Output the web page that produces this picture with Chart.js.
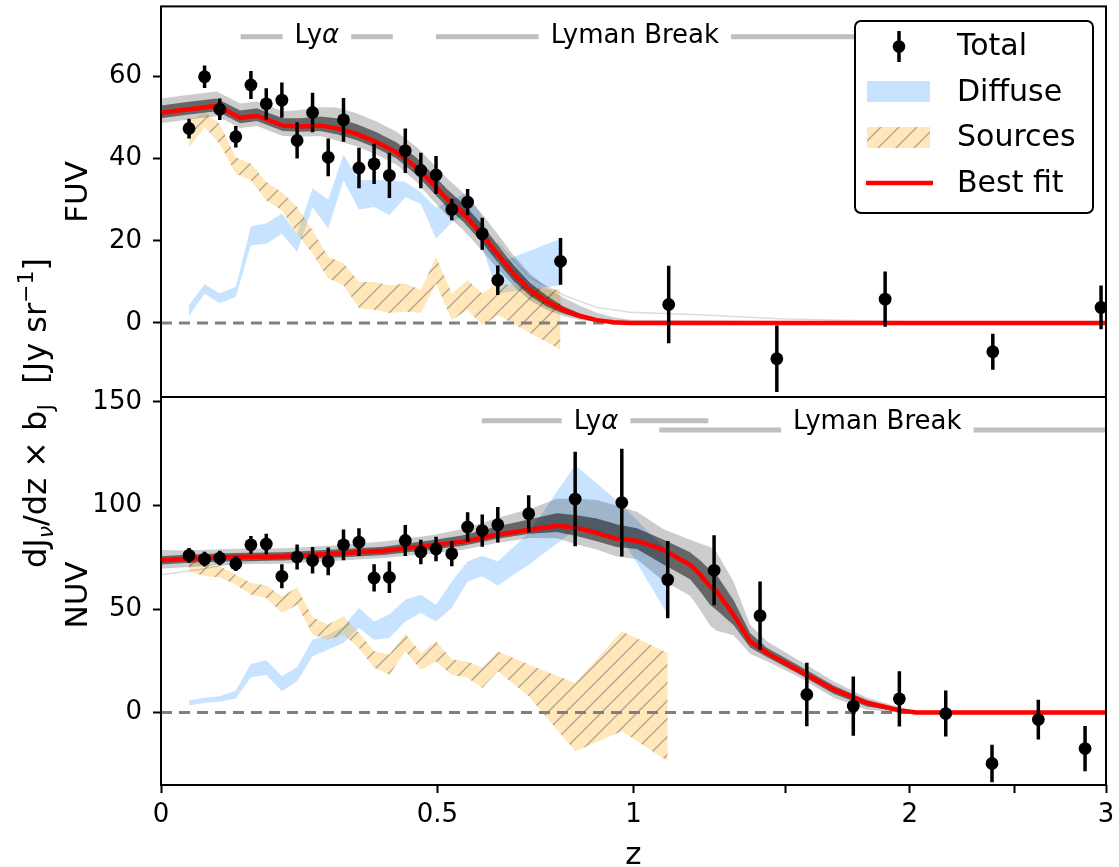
<!DOCTYPE html>
<html><head><meta charset="utf-8">
<script src="https://cdn.jsdelivr.net/npm/chart.js@4.4.1/dist/chart.umd.min.js"></script>
<style>
html,body{margin:0;padding:0;background:#fff;overflow:hidden}
#wrap{position:relative;width:1119px;height:867px}
#wrap canvas{position:absolute;left:0;top:0}
</style></head><body>
<div id="wrap"><canvas id="cFUV" width="1119" height="867"></canvas><canvas id="cNUV" width="1119" height="867"></canvas></div>
<script>
// ---------------- DATA ----------------
const xTickZ = [0, 0.5, 1, 1.5, 2, 2.5, 3];
const xTickLabels = ['0', '0.5', '1', '', '2', '', '3'];
const fuvTicks = [0, 20, 40, 60];
const nuvTicks = [0, 50, 100, 150];

// FUV measurements (Total)
const fuvZ = [0.042,0.066,0.090,0.116,0.141,0.167,0.194,0.221,0.249,0.278,0.307,0.337,0.367,0.398,0.431,0.464,0.497,0.532,0.568,0.602,0.639,0.797,1.106,1.468,1.893,2.388,2.971];
const fuvTotal = [47.3,59.9,52.0,45.3,57.9,53.3,54.2,44.4,51.2,40.3,49.4,37.7,38.7,35.9,41.9,37.1,36.0,27.6,29.4,21.7,10.4,15.0,4.5,-8.7,5.8,-7.0,3.8];
const fuvErr = [2.4,2.75,2.6,2.6,3.4,3.8,4.3,4.4,4.8,4.6,5.3,4.9,4.9,5.5,5.4,4.3,4.6,2.6,3.2,3.9,3.6,5.7,9.4,8.1,6.7,4.4,5.3];
// FUV components
const fuvBandZ = [0.042,0.066,0.090,0.116,0.141,0.167,0.194,0.221,0.249,0.278,0.307,0.337,0.367,0.398,0.431,0.464,0.497,0.532,0.568,0.602,0.639,0.797];
const fuvDiffHi = [4.4,9.4,7.2,8.8,23.5,24.2,26.6,21.7,32.8,30.0,41.0,34.7,34.8,34.7,34.3,31.8,28.0,30.0,31.8,25.8,14.5,20.5];
const fuvDiffLo = [1.7,7.2,4.8,6.4,18.9,19.3,21.7,17.3,28.2,23.0,34.7,27.6,28.2,26.2,30.6,29.0,20.5,24.5,26.7,18.5,7.2,9.2];
const fuvSrcHi = [49.2,51.2,48.4,40.3,38.7,34.3,31.8,28.2,22.5,16.1,14.5,10.0,10.0,9.2,9.6,8.0,16.1,7.2,10.4,7.2,9.6,8.0];
const fuvSrcLo = [42.7,47.6,43.6,36.3,34.7,29.8,27.4,21.7,16.9,10.8,9.2,3.6,3.2,2.4,2.8,2.4,9.6,0.7,3.2,-0.5,1.9,-6.5];
// FUV best fit and posterior-sample envelope
const fuvFitZ = [0,0.042,0.085,0.101,0.123,0.151,0.173,0.196,0.226,0.263,0.294,0.332,0.372,0.413,0.455,0.484,0.521,0.558,0.597,0.637,0.677,0.718,0.761,0.804,0.849,0.895,0.942,0.99,1.5,2.0,2.5,3.0];
const fuvFit = [51.1,52.0,52.8,51.6,49.9,50.4,49.2,48.0,47.8,48.0,47.4,46.0,44.0,41.5,37.8,34.5,30.2,26.6,22.1,16.9,12.0,8.0,5.2,3.2,1.7,0.7,0.2,0,0,0,0,0];
const fuvOutHi = [54.6,55.5,56.3,55.1,53.4,53.9,52.7,51.5,51.8,52.5,52.4,51.0,49.0,46.5,42.8,39.5,35.2,31.6,27.1,21.9,16.5,12.0,8.7,6.2,4.2,2.5,1.4,0.8,0.5,0.2,0,0];
const fuvOutLo = [48.6,49.5,50.3,49.1,47.4,47.9,46.7,45.5,45.3,45.5,44.4,43.0,41.0,38.5,34.3,30.5,26.2,22.6,18.1,13.4,9.0,5.5,3.2,1.7,0.7,0.2,0,0,0,0,0,0];
const fuvInHi = [52.9,53.8,54.6,53.4,51.7,52.2,51.0,49.8,49.8,50.2,49.8,48.4,46.4,43.9,40.2,36.9,32.6,29.0,24.5,19.2,14.1,9.8,6.6,4.1,2.3,1.1,0.4,0.1,0,0,0,0];
const fuvInLo = [49.8,50.7,51.5,50.3,48.6,49.1,47.9,46.7,46.5,46.7,45.9,44.5,42.5,40.0,36.0,32.5,28.2,24.6,20.1,15.0,10.3,6.6,4.0,2.3,1.1,0.4,0,0,0,0,0,0];
const fuvFaintZ = [0.637,0.718,0.804,0.895,0.99,1.2,1.5,2.0,3.0];
const fuvFaint = [19.5,11.0,6.8,3.8,2.6,2.0,1.0,0.3,0.1];

// NUV measurements (Total)
const nuvZ = [0.042,0.066,0.090,0.116,0.141,0.167,0.194,0.221,0.249,0.278,0.307,0.337,0.367,0.398,0.431,0.464,0.497,0.532,0.568,0.602,0.639,0.715,0.836,0.966,1.103,1.251,1.408,1.579,1.761,1.954,2.162,2.384,2.622,2.879];
const nuvTotal = [75.9,74.1,74.6,71.9,81.0,81.4,65.8,75.1,73.5,73.0,81.0,82.3,65.0,65.3,83.1,77.5,79.0,76.7,89.6,87.9,90.7,96.0,103.1,101.4,64.2,68.7,46.8,8.7,3.1,6.6,-0.5,-24.6,-3.4,-17.4];
const nuvErr = [3.6,3.6,3.5,3.6,4.3,5.0,5.8,6.0,6.4,6.7,7.4,6.7,6.6,7.6,7.5,5.9,5.9,6.0,7.1,7.8,8.6,8.9,22.8,26.0,18.7,16.9,16.5,15.3,14.3,13.3,11.1,9.1,9.6,10.9];
// NUV components
const nuvBandZ = [0.042,0.066,0.090,0.116,0.141,0.167,0.194,0.221,0.249,0.278,0.307,0.337,0.367,0.398,0.431,0.464,0.497,0.532,0.568,0.602,0.639,0.715,0.836,0.966,1.103];
const nuvDiffHi = [5.8,7.1,7.9,10.6,23.5,25.2,17.5,21.9,35.2,37.6,41.6,50.5,44.0,47.3,54.5,56.9,52.1,63.3,73.0,75.7,73.0,86.7,119.6,100.3,77.8];
const nuvDiffLo = [3.4,4.7,5.2,6.8,17.0,18.3,10.3,15.1,27.2,30.4,33.6,40.9,35.2,36.0,44.0,48.1,44.0,50.5,63.3,65.8,61.4,71.4,88.3,84.3,47.3];
const nuvSrcHi = [73.8,71.4,70.6,66.6,62.6,61.4,56.1,60.4,46.0,42.5,46.5,38.4,29.6,28.0,38.0,28.8,34.4,25.6,24.7,21.6,29.6,23.2,14.3,39.2,28.8];
const nuvSrcLo = [68.2,65.8,65.3,61.7,56.9,55.3,48.1,52.1,37.6,35.2,37.6,31.2,21.6,18.3,29.6,20.7,24.7,18.3,16.7,11.9,19.9,7.9,-18.7,-9.0,-23.5];
// NUV best fit and posterior-sample envelope
const nuvFitZ = [0,0.042,0.112,0.196,0.288,0.386,0.49,0.558,0.637,0.718,0.787,0.836,0.895,0.951,1.010,1.089,1.173,1.205,1.238,1.259,1.316,1.373,1.432,1.553,1.682,1.817,1.957,2.030,2.5,3.0];
const nuvFit = [73.5,74.3,75.1,75.4,76.7,78.1,80.8,82.6,85.9,88.3,90.2,89.4,86.7,83.9,83.0,78.6,71.4,66.6,60.9,58.5,47.3,34.4,28.8,19.9,11.1,4.7,1.0,0,0,0];
const nuvOutHi = [78.5,78.3,79.1,79.4,80.7,82.6,85.8,88.6,93.9,98.3,103.2,103.4,102.7,99.9,97.0,88.6,83.4,81.6,79.9,77.5,63.3,42.4,34.4,24.9,15.1,7.1,2.5,0.5,0,0];
const nuvOutLo = [69.5,70.3,71.6,71.9,73.2,74.6,76.8,78.6,81.9,84.3,84.2,81.4,78.7,75.4,74.0,63.6,56.4,49.6,41.9,39.5,37.3,28.4,24.8,16.9,7.1,1.4,0,0,0,0];
const nuvInHi = [75.5,76.3,77.1,77.4,78.7,80.1,83.3,85.6,89.9,93.3,96.2,95.4,93.7,90.9,89.0,83.6,77.4,73.6,68.9,66.5,54.3,38.4,31.3,22.4,13.1,5.9,1.6,0.2,0,0];
const nuvInLo = [71.5,72.3,73.1,73.4,74.7,76.1,78.8,80.6,83.9,86.3,87.2,85.4,82.7,79.9,79.0,71.6,64.4,58.6,51.9,49.5,42.3,31.4,26.8,18.4,9.1,2.9,0.4,0,0,0];
const nuvFaintZ = [0,0.06,0.12,0.2];
const nuvFaint = [66.6,69.2,72.5,74.8];

// Wavelength-feature annotations (z range of line, z of label, value of line / label)
const fuvAnnLabel = ['Ly', 'Lyman Break'];
const fuvAnnItalic = ['α', ''];
const fuvAnnZ1 = [0.124, 0.497];
const fuvAnnZ2 = [0.405, 1.77];
const fuvAnnZText = [0.257, 1.004];
const fuvAnnLineV = [69.6, 69.6];
const fuvAnnTextV = [69.8, 69.8];
const nuvAnnLabel = ['Ly', 'Lyman Break'];
const nuvAnnItalic = ['α', ''];
const nuvAnnZ1 = [0.601, 1.077];
const nuvAnnZ2 = [1.232, 3.0];
const nuvAnnZText = [0.893, 1.860];
const nuvAnnLineV = [140.9, 136.5];
const nuvAnnTextV = [140.4, 140.4];

const legendLabels = ['Total', 'Diffuse', 'Sources', 'Best fit'];

// ---------------- RENDERING ----------------
const FONT = 'DejaVu Sans';
Chart.defaults.font.family = FONT;
const LOG = z => Math.log10(1 + z);
const xy = (zs, vs) => zs.map((z, i) => ({x: LOG(z), y: vs[i]}));
const BLUE = 'rgba(30,144,255,0.25)';
const ANN_SIZE = 26;

function makeHatch(ctx) {
  const t = document.createElement('canvas');
  t.width = 18; t.height = 18;
  const c = t.getContext('2d');
  c.fillStyle = 'rgba(255,165,0,0.27)';
  c.fillRect(0, 0, 18, 18);
  c.strokeStyle = 'rgba(100,100,100,0.48)';
  c.lineWidth = 1.5;
  c.beginPath();
  c.moveTo(0, 18); c.lineTo(18, 0);
  c.moveTo(-2, 2); c.lineTo(2, -2);
  c.moveTo(16, 20); c.lineTo(20, 16);
  c.stroke();
  return ctx.createPattern(t, 'repeat');
}

function lineDs(data, color, width, order, extra) {
  return Object.assign({data, borderColor: color, borderWidth: width, pointRadius: 0, fill: false, order}, extra || {});
}
function bandDs(hi, lo, color, order) {
  return [
    {data: hi, borderColor: 'rgba(0,0,0,0)', borderWidth: 0, pointRadius: 0, fill: '+1', backgroundColor: color, order},
    {data: lo, borderColor: 'rgba(0,0,0,0)', borderWidth: 0, pointRadius: 0, fill: false, order}
  ];
}

function drawAnnotations(chart, p) {
  const ctx = chart.ctx, xs = chart.scales.x, ys = chart.scales.y;
  ctx.save();
  for (let i = 0; i < p.ann.label.length; i++) {
    ctx.font = ANN_SIZE + 'px "' + FONT + '"';
    const wMain = ctx.measureText(p.ann.label[i]).width;
    ctx.font = 'italic ' + ANN_SIZE + 'px "' + FONT + '"';
    const wIt = p.ann.italic[i] ? ctx.measureText(p.ann.italic[i]).width : 0;
    const w = wMain + wIt;
    const x1 = xs.getPixelForValue(LOG(p.ann.z1[i]));
    const x2 = xs.getPixelForValue(LOG(p.ann.z2[i]));
    const xt = xs.getPixelForValue(LOG(p.ann.zt[i]));
    const yl = ys.getPixelForValue(p.ann.lineV[i]);
    const yt = ys.getPixelForValue(p.ann.textV[i]);
    const gap = 12;
    ctx.strokeStyle = '#bfbfbf';
    ctx.lineWidth = 5;
    ctx.beginPath();
    const a = Math.min(x2, xt - w / 2 - gap), b = Math.max(x1, xt + w / 2 + gap);
    if (a > x1) { ctx.moveTo(x1, yl); ctx.lineTo(a, yl); }
    if (x2 > b) { ctx.moveTo(b, yl); ctx.lineTo(x2, yl); }
    ctx.stroke();
    ctx.fillStyle = '#000';
    ctx.textBaseline = 'middle';
    ctx.textAlign = 'left';
    ctx.font = ANN_SIZE + 'px "' + FONT + '"';
    ctx.fillText(p.ann.label[i], xt - w / 2, yt);
    if (wIt) {
      ctx.font = 'italic ' + ANN_SIZE + 'px "' + FONT + '"';
      ctx.fillText(p.ann.italic[i], xt - w / 2 + wMain, yt);
    }
  }
  ctx.restore();
}

function drawErrorBars(chart, p) {
  const ctx = chart.ctx, xs = chart.scales.x, ys = chart.scales.y, ca = chart.chartArea;
  ctx.save();
  ctx.beginPath(); ctx.rect(ca.left, ca.top, ca.right - ca.left, ca.bottom - ca.top); ctx.clip();
  ctx.strokeStyle = '#000'; ctx.lineWidth = 3.5; ctx.lineCap = 'butt';
  ctx.beginPath();
  p.z.forEach((z, i) => {
    const x = xs.getPixelForValue(LOG(z));
    ctx.moveTo(x, ys.getPixelForValue(p.total[i] - p.err[i]));
    ctx.lineTo(x, ys.getPixelForValue(p.total[i] + p.err[i]));
  });
  ctx.stroke();
  ctx.restore();
}

function drawFrame(chart) {
  const ctx = chart.ctx, ca = chart.chartArea;
  ctx.save();
  ctx.strokeStyle = '#000'; ctx.lineWidth = 2;
  ctx.strokeRect(ca.left, ca.top, ca.right - ca.left, ca.bottom - ca.top);
  ctx.restore();
}

function drawLegend(chart, hatch) {
  const ctx = chart.ctx;
  ctx.save();
  const bx = 855, by = 21, bw = 238, bh = 192;
  ctx.beginPath();
  ctx.roundRect(bx, by, bw, bh, 6);
  ctx.fillStyle = 'rgba(255,255,255,0.85)';
  ctx.fill();
  ctx.strokeStyle = '#000'; ctx.lineWidth = 2;
  ctx.stroke();
  const rows = [46.5, 92, 137.5, 183];
  // Total
  ctx.strokeStyle = '#000'; ctx.lineWidth = 3.5;
  ctx.beginPath(); ctx.moveTo(899, 31); ctx.lineTo(899, 62); ctx.stroke();
  ctx.fillStyle = '#000';
  ctx.beginPath(); ctx.arc(899, rows[0], 6.3, 0, Math.PI * 2); ctx.fill();
  // Diffuse
  ctx.fillStyle = BLUE; ctx.fillRect(867, 81, 63, 21);
  // Sources
  ctx.fillStyle = hatch; ctx.fillRect(867, 127, 63, 21);
  // Best fit
  ctx.strokeStyle = '#ff0000'; ctx.lineWidth = 4.5;
  ctx.beginPath(); ctx.moveTo(866, rows[3]); ctx.lineTo(933, rows[3]); ctx.stroke();
  ctx.fillStyle = '#000';
  ctx.font = '30px "' + FONT + '"';
  ctx.textBaseline = 'middle'; ctx.textAlign = 'left';
  legendLabels.forEach((t, i) => ctx.fillText(t, 957, rows[i] + 1));
  ctx.restore();
}

function drawRotated(ctx, text, x, y, size) {
  ctx.save();
  ctx.translate(x, y); ctx.rotate(-Math.PI / 2);
  ctx.font = size + 'px "' + FONT + '"';
  ctx.fillStyle = '#000'; ctx.textAlign = 'center'; ctx.textBaseline = 'alphabetic';
  ctx.fillText(text, 0, 0);
  ctx.restore();
}

function drawYLabel(ctx) {
  const size = 32, sub = Math.round(size * 0.7);
  const segs = [
    ['dJ', size, 0, ''], ['ν', sub, 0.22, 'italic '], ['/dz × b', size, 0, ''], ['J', sub, 0.22, ''],
    ['  [Jy sr', size, 0, ''], ['−1', sub, -0.42, ''], [']', size, 0, '']
  ];
  ctx.save();
  let total = 0;
  segs.forEach(s => { ctx.font = s[3] + s[1] + 'px "' + FONT + '"'; s.push(ctx.measureText(s[0]).width); total += s[4]; });
  ctx.translate(46, 413); ctx.rotate(-Math.PI / 2);
  ctx.fillStyle = '#000'; ctx.textAlign = 'left'; ctx.textBaseline = 'alphabetic';
  let cx = -total / 2;
  segs.forEach(s => {
    ctx.font = s[3] + s[1] + 'px "' + FONT + '"';
    ctx.fillText(s[0], cx, s[2] * size);
    cx += s[4];
  });
  ctx.restore();
}

function buildPanel(canvasId, p) {
  const canvas = document.getElementById(canvasId);
  const ctx = canvas.getContext('2d');
  const hatch = makeHatch(ctx);
  const ds = [];
  ds.push({label: 'Total', data: xy(p.z, p.total), showLine: false, pointRadius: 6.4, pointBackgroundColor: '#000', pointBorderWidth: 0, borderColor: '#000', order: 0});
  ds.push(lineDs(xy(p.fitZ, p.fit), '#ff0000', 4.5, 1));
  ds.push(lineDs(xy(p.faintZ, p.faint), 'rgba(0,0,0,0.14)', 1.5, 2));
  ds.push(...bandDs(xy(p.fitZ, p.inHi), xy(p.fitZ, p.inLo), 'rgba(0,0,0,0.5)', 3));
  ds.push(...bandDs(xy(p.fitZ, p.outHi), xy(p.fitZ, p.outLo), 'rgba(0,0,0,0.2)', 4));
  ds.push(lineDs([{x: 0, y: 0}, {x: LOG(3), y: 0}], '#808080', 3, 5, {borderDash: [11, 7]}));
  ds.push(...bandDs(xy(p.bandZ, p.srcHi), xy(p.bandZ, p.srcLo), hatch, 6));
  ds.push(...bandDs(xy(p.bandZ, p.diffHi), xy(p.bandZ, p.diffLo), BLUE, 7));

  const plugin = {
    id: 'panelExtras',
    afterDatasetsDraw(chart) {
      drawErrorBars(chart, p);
      drawAnnotations(chart, p);
    },
    afterDraw(chart) {
      drawFrame(chart);
      const c = chart.ctx;
      drawRotated(c, p.title, 87, p.titleY, 31);
      if (p.legend) drawLegend(chart, hatch);
      if (p.bottom) {
        drawYLabel(c);
        c.save();
        c.font = '31px "' + FONT + '"'; c.fillStyle = '#000'; c.textAlign = 'center'; c.textBaseline = 'alphabetic';
        c.fillText('z', chart.scales.x.getPixelForValue(LOG(1)), 864);
        c.restore();
      }
    }
  };

  return new Chart(ctx, {
    type: 'line',
    data: {datasets: ds},
    options: {
      responsive: false, animation: false, devicePixelRatio: 1, events: [],
      layout: {padding: p.padding},
      plugins: {legend: {display: false}, tooltip: {enabled: false}},
      elements: {line: {tension: 0}},
      scales: {
        x: {
          type: 'linear', min: 0, max: LOG(3), display: p.bottom,
          afterBuildTicks: s => { s.ticks = xTickZ.map(z => ({value: LOG(z)})); },
          afterFit: s => { s.height = p.bottom ? 82 : 0; s.paddingLeft = 0; s.paddingRight = 0; },
          ticks: {callback: (v, i) => xTickLabels[i], font: {size: 26}, color: '#000', padding: 7, maxRotation: 0, autoSkip: false},
          grid: {drawOnChartArea: false, drawTicks: true, tickLength: 8, tickColor: '#000', tickWidth: 2},
          border: {display: false}
        },
        y: {
          type: 'linear', min: p.ymin, max: p.ymax,
          afterBuildTicks: s => { s.ticks = p.yticks.map(v => ({value: v})); },
          afterFit: s => { s.width = 161; s.paddingTop = 0; s.paddingBottom = 0; },
          ticks: {font: {size: 26}, color: '#000', padding: 11},
          grid: {drawOnChartArea: false, drawTicks: true, tickLength: 8, tickColor: '#000', tickWidth: 2},
          border: {display: false}
        }
      }
    },
    plugins: [plugin]
  });
}

buildPanel('cFUV', {
  z: fuvZ, total: fuvTotal, err: fuvErr,
  bandZ: fuvBandZ, diffHi: fuvDiffHi, diffLo: fuvDiffLo, srcHi: fuvSrcHi, srcLo: fuvSrcLo,
  fitZ: fuvFitZ, fit: fuvFit, outHi: fuvOutHi, outLo: fuvOutLo, inHi: fuvInHi, inLo: fuvInLo,
  faintZ: fuvFaintZ, faint: fuvFaint,
  ann: {label: fuvAnnLabel, italic: fuvAnnItalic, z1: fuvAnnZ1, z2: fuvAnnZ2, zt: fuvAnnZText, lineV: fuvAnnLineV, textV: fuvAnnTextV},
  ymin: -18, ymax: 77, yticks: fuvTicks,
  padding: {left: 0, right: 13, top: 5, bottom: 470},
  title: 'FUV', titleY: 192, legend: true, bottom: false
});
buildPanel('cNUV', {
  z: nuvZ, total: nuvTotal, err: nuvErr,
  bandZ: nuvBandZ, diffHi: nuvDiffHi, diffLo: nuvDiffLo, srcHi: nuvSrcHi, srcLo: nuvSrcLo,
  fitZ: nuvFitZ, fit: nuvFit, outHi: nuvOutHi, outLo: nuvOutLo, inHi: nuvInHi, inLo: nuvInLo,
  faintZ: nuvFaintZ, faint: nuvFaint,
  ann: {label: nuvAnnLabel, italic: nuvAnnItalic, z1: nuvAnnZ1, z2: nuvAnnZ2, zt: nuvAnnZText, lineV: nuvAnnLineV, textV: nuvAnnTextV},
  ymin: -35, ymax: 152.4, yticks: nuvTicks,
  padding: {left: 0, right: 13, top: 397, bottom: 0},
  title: 'NUV', titleY: 595, legend: false, bottom: true
});
</script></body></html>
